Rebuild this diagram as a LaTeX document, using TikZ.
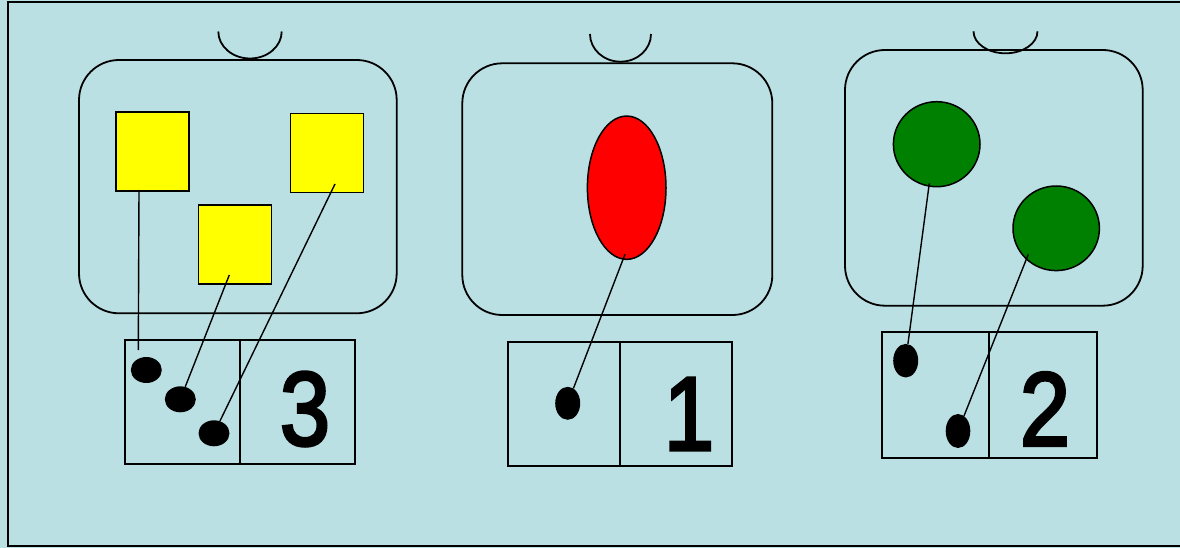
\documentclass[tikz,border=0pt]{standalone}
\usepackage{fontspec}
\setmainfont{Liberation Sans}
\newfontfamily\digfont[FakeBold=3]{Liberation Sans}
\usetikzlibrary{shapes.geometric}
\definecolor{bgc}{HTML}{BBE0E3}
\definecolor{grn}{HTML}{008000}
\definecolor{ylw}{HTML}{FFFF00}
\definecolor{rd}{HTML}{FF0000}
\tikzset{
  panel/.style={draw=black,line width=1.8pt,rounded corners=40pt},
  cupline/.style={draw=black,line width=1.8pt},
  sq/.style={draw=black,line width=1.5pt,fill=ylw,rectangle,inner sep=0pt,minimum width=73pt,minimum height=79pt},
  blob/.style={draw=black,line width=1.5pt,ellipse,inner sep=0pt},
  cell/.style={draw=black,line width=1.8pt,rectangle,inner sep=0pt},
  dot/.style={fill=black,ellipse,inner sep=0pt},
  link/.style={draw=black,line width=1.4pt},
  digit/.style={inner sep=0pt,font=\digfont\fontsize{105}{105}\selectfont,xscale=0.86}
}
\begin{document}
\begin{tikzpicture}[x=1pt,y=-1pt]
\useasboundingbox (0,0) rectangle (1180,548);
\fill[bgc] (0,0) rectangle (1180,548);
\draw[line width=2pt] (8,2.5) rectangle (1192,545.5);

% ---------- left panel ----------
\draw[cupline] (218.3,31.5) arc[start angle=180,end angle=0,x radius=31.7,y radius=27];
\draw[panel] (79,60) rectangle (396.7,313.3);
\node[sq] (sqA) at (152.5,151.3) {};
\node[sq] (sqC) at (326.8,152.8) {};
\node[sq] (sqB) at (235,244.7) {};
\node[cell,minimum width=115pt,minimum height=124.3pt] (c3a) at (182.5,402.2) {};
\node[cell,minimum width=115.3pt,minimum height=124.3pt] (c3b) at (297.7,402.2) {};
\node[dot,minimum width=31pt,minimum height=26pt] (d31) at (146.3,370) {};
\node[dot,minimum width=31pt,minimum height=26pt] (d32) at (180.3,399.3) {};
\node[dot,minimum width=31pt,minimum height=26pt] (d33) at (214,433.3) {};
\node[digit] (n3) at (305,409) {3};
\coordinate (sA) at (139,190);
\coordinate (eA) at (138.3,350);
\coordinate (sB) at (229.3,275);
\coordinate (sC) at (335,184);
\draw[link] (sA) -- (eA);
\draw[link] (sB) -- (d32);
\draw[link] (sC) -- (d33);

% ---------- middle panel ----------
\draw[cupline] (590,34) arc[start angle=180,end angle=0,x radius=30.5,y radius=27.7];
\draw[panel] (462.3,63.3) rectangle (772.3,315);
\node[blob,fill=rd,minimum width=78.6pt,minimum height=143.3pt] (egg) at (626.7,187.7) {};
\node[cell,minimum width=112pt,minimum height=124.3pt] (c1a) at (564.3,403.8) {};
\node[cell,minimum width=111.4pt,minimum height=124.3pt] (c1b) at (676,403.8) {};
\node[dot,minimum width=25pt,minimum height=33pt] (d11) at (567.7,403.3) {};
\node[digit] (n1) at (689,414) {1};
\coordinate (sE) at (625,254.3);
\draw[link] (sE) -- (d11);

% ---------- right panel ----------
\draw[cupline] (973.5,31.3) arc[start angle=180,end angle=0,x radius=32,y radius=22];
\draw[panel] (845,50) rectangle (1142.7,305.7);
\node[blob,fill=grn,minimum width=86.6pt,minimum height=85pt] (g1) at (936.7,144.2) {};
\node[blob,fill=grn,minimum width=86.4pt,minimum height=84.6pt] (g2) at (1056.2,228.3) {};
\node[cell,minimum width=107.3pt,minimum height=126.6pt] (c2a) at (935.3,395) {};
\node[cell,minimum width=107.7pt,minimum height=126.6pt] (c2b) at (1042.8,395) {};
\node[dot,minimum width=25pt,minimum height=33.6pt] (d21) at (905.7,360.7) {};
\node[dot,minimum width=24.6pt,minimum height=34pt] (d22) at (958,431) {};
\node[digit] (n2) at (1045,409) {2};
\coordinate (sG1) at (929.3,183.3);
\coordinate (sG2) at (1028.3,254.3);
\draw[link] (sG1) -- (d21);
\draw[link] (sG2) -- (d22);
\end{tikzpicture}
\end{document}
